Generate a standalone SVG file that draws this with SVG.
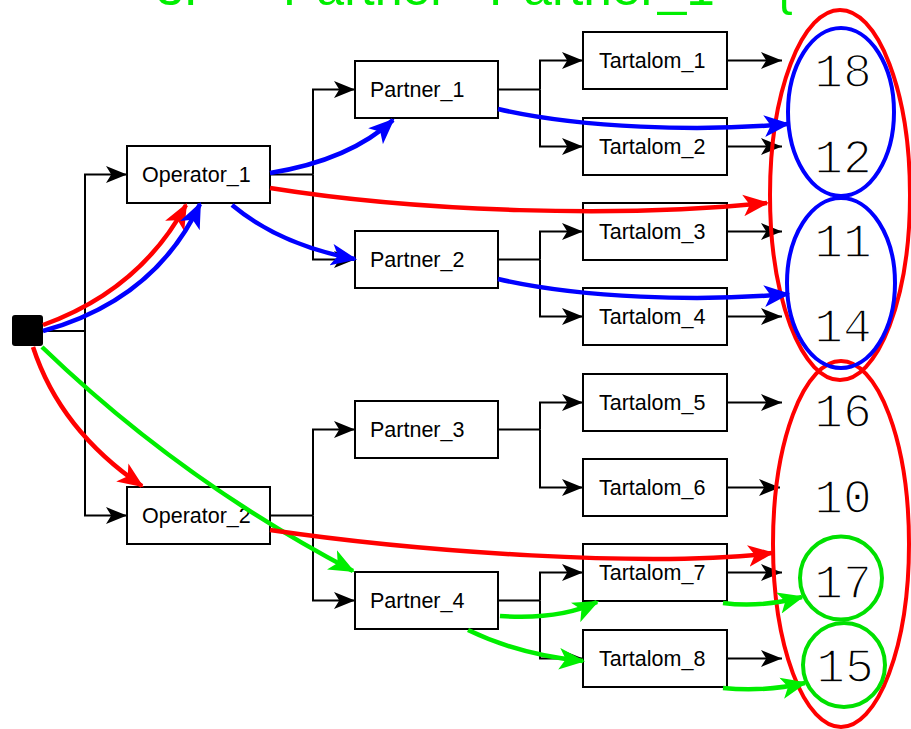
<svg xmlns="http://www.w3.org/2000/svg" width="911" height="729" viewBox="0 0 911 729">
<style>
.box{fill:#fff;stroke:#000;stroke-width:2}
.lbl{font-family:"Liberation Sans",Arial,sans-serif;font-size:21.5px;fill:#000}
.num{font-family:"Liberation Mono","Courier New",monospace;font-size:48px;fill:#000;text-anchor:middle;stroke:#fff;stroke-width:1.6}
.tree{fill:none;stroke:#000;stroke-width:2}
.tree.a{marker-end:url(#ma)}
.r{fill:none;stroke:#ff0000;stroke-width:4.5;marker-end:url(#mr)}
.b{fill:none;stroke:#0000ff;stroke-width:4.5;marker-end:url(#mb)}
.g{fill:none;stroke:#00ee00;stroke-width:4.5;marker-end:url(#mg)}
.er{fill:none;stroke:#ff0000;stroke-width:4}
.eb{fill:none;stroke:#0000ff;stroke-width:4}
.eg{fill:none;stroke:#00e000;stroke-width:4}
.head{font-family:"Liberation Sans",Arial,sans-serif;font-size:50px;fill:#00ee00}
</style>
<defs>
<marker id="ma" viewBox="0 0 20 16" refX="20" refY="8" markerWidth="21" markerHeight="17" markerUnits="userSpaceOnUse" orient="auto"><path d="M0,0 L20,8 L0,16 L5,8 Z" fill="#000"/></marker>
<marker id="mr" viewBox="0 0 24 20" refX="22" refY="10" markerWidth="26" markerHeight="22" markerUnits="userSpaceOnUse" orient="auto"><path d="M0,0 L24,10 L0,20 L6,10 Z" fill="#ff0000"/></marker>
<marker id="mb" viewBox="0 0 24 20" refX="22" refY="10" markerWidth="26" markerHeight="22" markerUnits="userSpaceOnUse" orient="auto"><path d="M0,0 L24,10 L0,20 L6,10 Z" fill="#0000ff"/></marker>
<marker id="mg" viewBox="0 0 24 20" refX="22" refY="10" markerWidth="26" markerHeight="22" markerUnits="userSpaceOnUse" orient="auto"><path d="M0,0 L24,10 L0,20 L6,10 Z" fill="#00ee00"/></marker>
</defs>
<rect width="911" height="729" fill="#fff"/>
<text class="head" y="5"><tspan x="156">3.</tspan><tspan x="283">Partner</tspan><tspan x="489" textLength="226" lengthAdjust="spacingAndGlyphs">Partner_1</tspan><tspan x="776">{</tspan></text>

<g id="connectors">
<path class="tree" d="M43,331 H85"/>
<path class="tree a" d="M85,331 V174.5 H127"/>
<path class="tree a" d="M85,331 V515.5 H127"/>
<path class="tree" d="M270,174.5 H313"/>
<path class="tree a" d="M313,174.5 V89.5 H355"/>
<path class="tree a" d="M313,174.5 V259.5 H355"/>
<path class="tree" d="M270,515.5 H313"/>
<path class="tree a" d="M313,515.5 V429.5 H355"/>
<path class="tree a" d="M313,515.5 V600.5 H355"/>
<path class="tree" d="M498,89.5 H540"/>
<path class="tree a" d="M540,89.5 V60.5 H583"/>
<path class="tree a" d="M540,89.5 V146.5 H583"/>
<path class="tree" d="M498,259.5 H540"/>
<path class="tree a" d="M540,259.5 V231.5 H583"/>
<path class="tree a" d="M540,259.5 V316.5 H583"/>
<path class="tree" d="M498,429.5 H540"/>
<path class="tree a" d="M540,429.5 V402.5 H583"/>
<path class="tree a" d="M540,429.5 V487.5 H583"/>
<path class="tree" d="M498,600.5 H540"/>
<path class="tree a" d="M540,600.5 V572.5 H583"/>
<path class="tree a" d="M540,600.5 V658.5 H583"/>
<path class="tree a" d="M727,60.5 H782"/>
<path class="tree a" d="M727,146.5 H782"/>
<path class="tree a" d="M727,231.5 H782"/>
<path class="tree a" d="M727,316.5 H782"/>
<path class="tree a" d="M727,402.5 H782"/>
<path class="tree a" d="M727,487.5 H780"/>
<path class="tree a" d="M727,572.5 H782"/>
<path class="tree a" d="M727,658.5 H782"/>
</g>

<g id="root"><rect x="12" y="315" width="31" height="31" rx="3" fill="#000"/></g>
<g id="operator_1"><rect class="box" x="127" y="146" width="143" height="57"/><text class="lbl" x="142" y="182">Operator_1</text></g>
<g id="operator_2"><rect class="box" x="127" y="487" width="143" height="57"/><text class="lbl" x="142" y="523">Operator_2</text></g>
<g id="partner_1"><rect class="box" x="355" y="61" width="143" height="57"/><text class="lbl" x="370" y="97">Partner_1</text></g>
<g id="partner_2"><rect class="box" x="355" y="231" width="143" height="57"/><text class="lbl" x="370" y="267">Partner_2</text></g>
<g id="partner_3"><rect class="box" x="355" y="401" width="143" height="57"/><text class="lbl" x="370" y="437">Partner_3</text></g>
<g id="partner_4"><rect class="box" x="355" y="572" width="143" height="57"/><text class="lbl" x="370" y="608">Partner_4</text></g>
<g id="tartalom_1"><rect class="box" x="583" y="32" width="144" height="57"/><text class="lbl" x="599" y="68">Tartalom_1</text></g>
<g id="tartalom_2"><rect class="box" x="583" y="118" width="144" height="57"/><text class="lbl" x="599" y="154">Tartalom_2</text></g>
<g id="tartalom_3"><rect class="box" x="583" y="203" width="144" height="57"/><text class="lbl" x="599" y="239">Tartalom_3</text></g>
<g id="tartalom_4"><rect class="box" x="583" y="288" width="144" height="57"/><text class="lbl" x="599" y="324">Tartalom_4</text></g>
<g id="tartalom_5"><rect class="box" x="583" y="374" width="144" height="57"/><text class="lbl" x="599" y="410">Tartalom_5</text></g>
<g id="tartalom_6"><rect class="box" x="583" y="459" width="144" height="57"/><text class="lbl" x="599" y="495">Tartalom_6</text></g>
<g id="tartalom_7"><rect class="box" x="583" y="544" width="144" height="57"/><text class="lbl" x="599" y="580">Tartalom_7</text></g>
<g id="tartalom_8"><rect class="box" x="583" y="630" width="144" height="57"/><text class="lbl" x="599" y="666">Tartalom_8</text></g>

<g id="values">
<text class="num" x="843" y="87">18</text>
<text class="num" x="843" y="173">12</text>
<text class="num" x="843" y="257">11</text>
<text class="num" x="843" y="342">14</text>
<text class="num" x="843" y="427">16</text>
<text class="num" x="843" y="513">10</text>
<text class="num" x="843" y="598">17</text>
<text class="num" x="845" y="682">15</text>
</g>

<g id="groups">
<ellipse id="grp_red_top" class="er" cx="840" cy="195" rx="70" ry="185"/>
<ellipse id="grp_red_bottom" class="er" cx="841" cy="544" rx="68" ry="183"/>
<ellipse id="grp_blue_1" class="eb" cx="841" cy="112" rx="53" ry="84"/>
<ellipse id="grp_blue_2" class="eb" cx="841" cy="283" rx="54" ry="85"/>
<ellipse id="grp_green_1" class="eg" cx="841" cy="578" rx="41" ry="41.5"/>
<ellipse id="grp_green_2" class="eg" cx="844" cy="665" rx="41" ry="42"/>
</g>

<g id="paths">
<path class="r" d="M43,325 Q140,290 186,205"/>
<path class="b" d="M43,331 Q155,300 200,204"/>
<path class="r" d="M33,347 Q60,430 142,486"/>
<path class="g" d="M42,347 Q180,480 353,571"/>
<path class="r" d="M270,188 C420,212 620,218 767,203"/>
<path class="r" d="M270,530 C420,552 650,568 772,553"/>
<path class="b" d="M270,173 Q350,160 393,120"/>
<path class="b" d="M232,205 Q280,245 355,259"/>
<path class="b" d="M498,109 C580,128 700,132 788,124"/>
<path class="b" d="M498,279 C580,298 700,302 788,294"/>
<path class="g" d="M500,616 Q560,620 597,602"/>
<path class="g" d="M468,630 Q520,655 583,661"/>
<path class="g" d="M723,603 Q760,608 802,597"/>
<path class="g" d="M723,688 Q765,692 805,683"/>
</g>
</svg>
